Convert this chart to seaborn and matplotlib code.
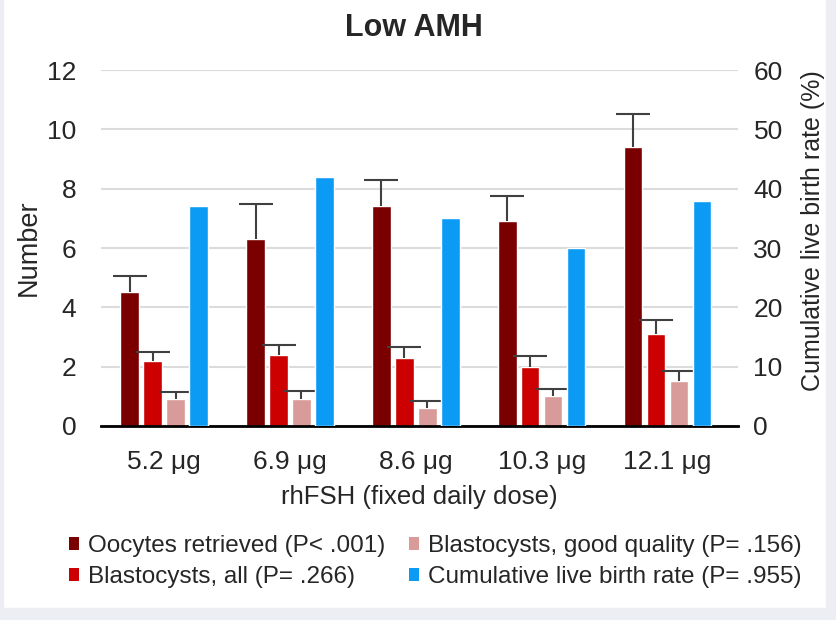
import numpy as np
import pandas as pd
import matplotlib
matplotlib.use("Agg")
import matplotlib.pyplot as plt
from matplotlib.patches import Patch, Rectangle
import seaborn as sns

# Data
doses = ['5.2 μg', '6.9 μg', '8.6 μg', '10.3 μg', '12.1 μg']
oocytes = [4.5, 6.3, 7.4, 6.9, 9.4]
oocytes_err = [0.55, 1.18, 0.88, 0.84, 1.13]
blast_all = [2.2, 2.4, 2.3, 2.0, 3.1]
blast_all_err = [0.31, 0.34, 0.36, 0.37, 0.47]
blast_good = [0.9, 0.9, 0.6, 1.0, 1.5]
blast_good_err = [0.24, 0.28, 0.24, 0.26, 0.34]
clbr = [37, 42, 35, 30, 38]

series = ['Oocytes retrieved (P< .001)', 'Blastocysts, all (P= .266)',
          'Blastocysts, good quality (P= .156)', 'Cumulative live birth rate (P= .955)']
colors = ['#7a0000', '#cc0000', '#d99a9a', '#0b9bf5']
palette = dict(zip(series, colors))

left_df = pd.concat([
    pd.DataFrame({'dose': doses, 'series': series[0], 'value': oocytes}),
    pd.DataFrame({'dose': doses, 'series': series[1], 'value': blast_all}),
    pd.DataFrame({'dose': doses, 'series': series[2], 'value': blast_good}),
])
right_df = pd.DataFrame({'dose': doses, 'series': series[3], 'value': clbr})

sns.set_style('white')
plt.rcParams['font.family'] = ['Liberation Sans', 'DejaVu Sans']

fig = plt.figure(figsize=(8.36, 6.2), dpi=100)
ax = fig.add_axes([0.121, 0.313, 0.762, 0.574])
ax2 = ax.twinx()

# same hue_order on both axes so the blue bar takes the 4th slot
bar_kw = dict(x='dose', y='value', hue='series', hue_order=series, order=doses,
              palette=palette, width=0.73, gap=0.2, saturation=1, legend=False,
              errorbar=None, dodge=True)
sns.barplot(data=left_df, ax=ax, **bar_kw)
sns.barplot(data=right_df, ax=ax2, **bar_kw)

# one-sided error bars
for cont, err in zip(ax.containers, [oocytes_err, blast_all_err, blast_good_err]):
    xs = [p.get_x() + p.get_width() / 2 for p in cont.patches]
    ys = [p.get_height() for p in cont.patches]
    eb = ax.errorbar(xs, ys, yerr=[np.zeros(len(err)), err], fmt='none',
                     ecolor='#404040', elinewidth=1.5, capsize=12, capthick=1.5, zorder=3)
    eb[1][0].set_visible(False)

ax.set_xlim(-0.5, 4.56)
ax.set_ylim(0, 12)
ax.set_yticks(range(0, 13, 2))
ax2.set_ylim(0, 60)
ax2.set_yticks(range(0, 61, 10))

ax.set_axisbelow(True)
ax.yaxis.grid(True, color='#dcdcdc', linewidth=1.5)
ax.xaxis.grid(False)
ax2.grid(False)

for s in ['left', 'right', 'top']:
    ax.spines[s].set_visible(False)
for s in ax2.spines.values():
    s.set_visible(False)
ax.spines['bottom'].set_color('black')
ax.spines['bottom'].set_linewidth(2)

ax.tick_params(axis='x', length=0, pad=17, labelsize=19)
ax.tick_params(axis='y', length=0, pad=18, labelsize=19)
ax2.tick_params(axis='y', length=0, pad=11, labelsize=19)

ax.set_xlabel('rhFSH (fixed daily dose)', fontsize=18.5, labelpad=8)
ax.set_ylabel('Number', fontsize=19.5)
ax.yaxis.set_label_coords(-0.093, 0.5)
ax2.set_ylabel('Cumulative live birth rate (%)', fontsize=18)
ax2.yaxis.set_label_coords(1.099, 0.55)

fig.text(0.495, 1 - 28 / 620, 'Low AMH', fontsize=22, fontweight='bold',
         ha='center', va='center')

handles = [Patch(facecolor=c, edgecolor='none') for c in colors]
fig.legend(handles, series, loc='upper left', bbox_to_anchor=(0.0825, 0.137),
           ncol=2, frameon=False, fontsize=17.5, handlelength=0.42, handleheight=0.42,
           handletextpad=0.35, columnspacing=1.0, labelspacing=0.38,
           borderpad=0, borderaxespad=0)

# light screenshot border
edge = '#eceef3'
fig.patches.append(Rectangle((0.988, 0), 0.012, 1, transform=fig.transFigure, color=edge, zorder=-1))
fig.patches.append(Rectangle((0, 0), 1, 0.02, transform=fig.transFigure, color=edge, zorder=-1))
fig.patches.append(Rectangle((0, 0), 0.004, 1, transform=fig.transFigure, color=edge, zorder=-1))

fig.savefig('out.png', dpi=100)
